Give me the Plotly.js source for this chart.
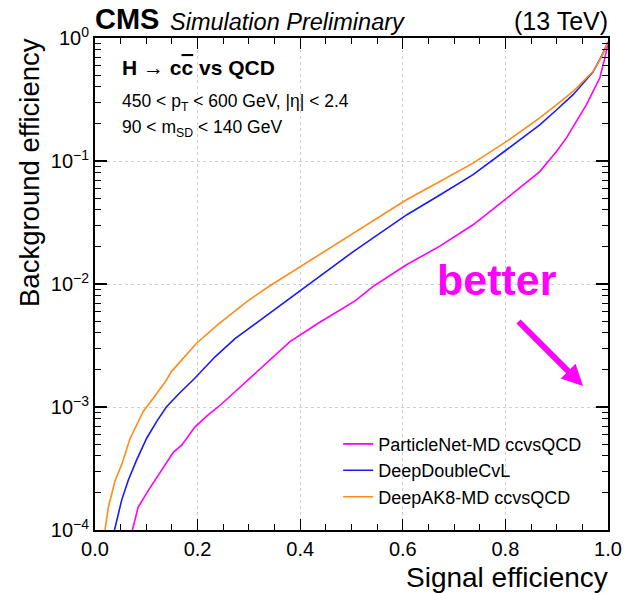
<!DOCTYPE html>
<html>
<head>
<meta charset="utf-8">
<script src="https://cdn.plot.ly/plotly-3.0.1.min.js"></script>
<style>html,body{margin:0;padding:0;background:#fff;}#chart{width:624px;height:593px;}</style>
</head>
<body>
<div id="chart"></div>
<script>
// ParticleNet-MD ccvsQCD
const pnetSig = [0.073, 0.084, 0.104, 0.130, 0.153, 0.169, 0.195, 0.220, 0.240, 0.273, 0.292, 0.325, 0.380, 0.435, 0.478, 0.507, 0.543, 0.608, 0.673, 0.737, 0.803, 0.867, 0.900, 0.919, 0.958, 0.984, 0.994, 1.0];
const pnetBkg = [1.0e-4, 1.53e-4, 2.1e-4, 3.1e-4, 4.3e-4, 4.9e-4, 6.9e-4, 8.6e-4, 1.0e-3, 1.33e-3, 1.57e-3, 2.1e-3, 3.4e-3, 4.8e-3, 6.2e-3, 7.3e-3, 9.6e-3, 0.0144, 0.0204, 0.0303, 0.050, 0.082, 0.12, 0.154, 0.287, 0.473, 0.69, 0.9];
// DeepDoubleCvL
const ddcSig = [0.038, 0.052, 0.065, 0.081, 0.101, 0.120, 0.139, 0.165, 0.195, 0.234, 0.273, 0.315, 0.357, 0.396, 0.442, 0.478, 0.507, 0.543, 0.608, 0.673, 0.737, 0.803, 0.867, 0.900, 0.932, 0.971, 0.988, 1.0];
const ddcBkg = [1.0e-4, 1.75e-4, 2.55e-4, 3.7e-4, 5.6e-4, 7.6e-4, 1.0e-3, 1.3e-3, 1.72e-3, 2.56e-3, 3.6e-3, 4.84e-3, 6.5e-3, 8.6e-3, 0.0119, 0.0153, 0.0188, 0.0238, 0.0366, 0.0532, 0.0774, 0.124, 0.197, 0.261, 0.346, 0.53, 0.72, 0.93];
// DeepAK8-MD ccvsQCD
const dak8Sig = [0.0195, 0.026, 0.039, 0.052, 0.068, 0.094, 0.115, 0.136, 0.149, 0.198, 0.240, 0.296, 0.338, 0.390, 0.429, 0.478, 0.507, 0.543, 0.608, 0.673, 0.737, 0.803, 0.867, 0.900, 0.932, 0.971, 0.988, 1.0];
const dak8Bkg = [1.0e-4, 1.53e-4, 2.5e-4, 3.4e-4, 5.5e-4, 9.2e-4, 1.2e-3, 1.58e-3, 1.94e-3, 3.3e-3, 4.7e-3, 7.2e-3, 9.5e-3, 0.0130, 0.0165, 0.0222, 0.0264, 0.0329, 0.0486, 0.0685, 0.096, 0.145, 0.224, 0.287, 0.368, 0.536, 0.71, 0.92];

const seriesNames = ['ParticleNet-MD ccvsQCD', 'DeepDoubleCvL', 'DeepAK8-MD ccvsQCD'];
const seriesColors = ['#ff00ff', '#1a1aff', '#ff8c1a'];

const xTickVals = [0, 0.2, 0.4, 0.6, 0.8, 1.0];
const xTickText = ['0.0', '0.2', '0.4', '0.6', '0.8', '1.0'];
const xMinorVals = [0.05, 0.1, 0.15, 0.25, 0.3, 0.35, 0.45, 0.5, 0.55, 0.65, 0.7, 0.75, 0.85, 0.9, 0.95];
const yTickVals = [1e-4, 1e-3, 1e-2, 1e-1, 1];
const yTickText = ['10<sup>\u22124</sup>', '10<sup>\u22123</sup>', '10<sup>\u22122</sup>', '10<sup>\u22121</sup>', '10<sup>0</sup>'];
const yMinorMantissas = [2, 3, 4, 5, 6, 7, 8, 9];
const yMinorVals = [];
[1e-4, 1e-3, 1e-2, 1e-1].forEach(d => yMinorMantissas.forEach(m => yMinorVals.push(m * d)));

const FONT = 'Liberation Sans, Arial, Helvetica, sans-serif';

const xs = [pnetSig, ddcSig, dak8Sig];
const ys = [pnetBkg, ddcBkg, dak8Bkg];
const traces = xs.map((x, i) => ({
  x: x, y: ys[i], type: 'scatter', mode: 'lines', name: seriesNames[i],
  legendgroup: 'g' + i,
  line: {color: seriesColors[i], width: 1.6},
  hoverinfo: 'skip'
}));

const layout = {
  width: 624, height: 593,
  margin: {l: 95, r: 16, t: 38, b: 63},
  paper_bgcolor: '#fff', plot_bgcolor: '#fff',
  font: {family: FONT, color: '#000'},
  showlegend: true,
  legend: {
    x: 0.474, y: 0.212, xanchor: 'left', yanchor: 'top',
    bgcolor: 'rgba(0,0,0,0)', font: {size: 18, family: FONT},
    tracegroupgap: 0
  },
  xaxis: {
    range: [0, 1], tickmode: 'array', tickvals: xTickVals, ticktext: xTickText,
    ticks: 'inside', ticklen: 11, tickwidth: 1.2, tickcolor: '#000',
    showline: true, linewidth: 2, linecolor: '#000', mirror: 'ticks',
    showgrid: true, gridcolor: '#d0d0d0', griddash: 'dot', gridwidth: 1,
    zeroline: false,
    tickfont: {size: 20, family: FONT},
    minor: {tickmode: 'array', tickvals: xMinorVals, ticks: 'inside', ticklen: 6, tickwidth: 1, tickcolor: '#000', showgrid: false}
  },
  yaxis: {
    type: 'log', range: [-4, 0], tickmode: 'array', tickvals: yTickVals, ticktext: yTickText,
    ticks: 'inside', ticklen: 12, tickwidth: 1.2, tickcolor: '#000',
    showline: true, linewidth: 2, linecolor: '#000', mirror: 'ticks',
    showgrid: true, gridcolor: '#d0d0d0', griddash: 'dot', gridwidth: 1,
    zeroline: false,
    tickfont: {size: 20, family: FONT},
    minor: {tickmode: 'array', tickvals: yMinorVals, ticks: 'inside', ticklen: 6, tickwidth: 1, tickcolor: '#000', showgrid: false}
  },
  annotations: [
    {xref: 'paper', yref: 'paper', x: 0, y: 1, xanchor: 'left', yanchor: 'bottom', yshift: 1, xshift: -2,
     text: '<b>CMS</b>', showarrow: false, font: {size: 29, family: FONT}},
    {xref: 'paper', yref: 'paper', x: 0.142, y: 1, xanchor: 'left', yanchor: 'bottom', yshift: 1,
     text: '<i>Simulation Preliminary</i>', showarrow: false, font: {size: 23.5, family: FONT}},
    {xref: 'paper', yref: 'paper', x: 1, y: 1, xanchor: 'right', yanchor: 'bottom', yshift: 1, xshift: 2,
     text: '(13 TeV)', showarrow: false, font: {size: 25, family: FONT}},
    {xref: 'paper', yref: 'paper', x: 0.048, y: (530 - 67) / 492, xanchor: 'left', yanchor: 'middle',
     text: '<b>H \u2192 c<span style="text-decoration:overline">c</span> vs QCD</b>', showarrow: false, font: {size: 21, family: FONT}},
    {xref: 'paper', yref: 'paper', x: 0.048, y: (530 - 102) / 492, xanchor: 'left', yanchor: 'middle',
     text: '450 < p<sub>T</sub> < 600 GeV, |\u03b7| < 2.4', showarrow: false, font: {size: 17.5, family: FONT}},
    {xref: 'paper', yref: 'paper', x: 0.048, y: (530 - 128) / 492, xanchor: 'left', yanchor: 'middle',
     text: '90 < m<sub>SD</sub> < 140 GeV', showarrow: false, font: {size: 17.5, family: FONT}},
    {xref: 'paper', yref: 'paper', x: (497 - 95) / 513, y: (530 - 280) / 492, xanchor: 'center', yanchor: 'middle',
     text: '<b>better</b>', showarrow: false, font: {size: 43, family: FONT, color: '#ff00ff'}},
    {xref: 'paper', yref: 'paper', x: (583 - 95) / 513, y: (530 - 386) / 492, ax: -66, ay: -66,
     text: '', showarrow: true, arrowhead: 2, arrowsize: 0.7, arrowwidth: 6, arrowcolor: '#ff00ff', standoff: 0},
    {xref: 'paper', yref: 'paper', x: 1, y: 0, xanchor: 'right', yanchor: 'top', yshift: -30, xshift: 2,
     text: 'Signal efficiency', showarrow: false, font: {size: 28, family: FONT}},
    {xref: 'paper', yref: 'paper', x: 0, y: 1, xanchor: 'right', yanchor: 'top', xshift: -48, yshift: 2, textangle: -90,
     text: 'Background efficiency', showarrow: false, font: {size: 27.5, family: FONT}}
  ]
};

Plotly.newPlot('chart', traces, layout, {displayModeBar: false, staticPlot: true});
</script>
</body>
</html>
